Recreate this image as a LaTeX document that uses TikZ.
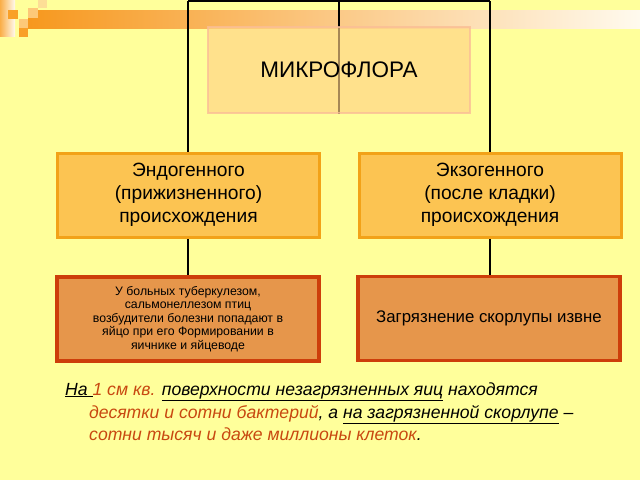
\documentclass[tikz,border=0pt]{standalone}
\usepackage{fontspec}
\setmainfont{Liberation Sans}
\definecolor{bgyellow}{RGB}{255,255,155}
\definecolor{barorange}{RGB}{247,152,30}
\definecolor{barwhite}{RGB}{255,250,238}
\definecolor{mffill}{RGB}{255,210,133}
\definecolor{mfborder}{RGB}{250,190,150}
\definecolor{midfill}{RGB}{252,196,82}
\definecolor{midborder}{RGB}{242,162,24}
\definecolor{lowfill}{RGB}{230,150,75}
\definecolor{lowborder}{RGB}{205,62,10}
\definecolor{redtext}{RGB}{200,72,16}
\definecolor{sqA}{RGB}{249,160,40}
\definecolor{sqB}{RGB}{253,200,120}
\definecolor{sqC}{RGB}{253,222,150}
\pgfdeclarelayer{back}
\pgfdeclarelayer{lines}
\pgfsetlayers{back,lines,main}
\tikzset{
  conn/.style={draw=black, line width=1.8pt},
  topbox/.style={rectangle, fill=mffill, fill opacity=0.65, text opacity=1, draw=mfborder, draw opacity=0.8, line width=2pt,
    minimum width=262pt, minimum height=86pt, inner sep=0pt, font=\fontsize{22.5}{26}\selectfont},
  midbox/.style={rectangle, fill=midfill, draw=midborder, line width=3pt,
    minimum width=262pt, minimum height=84pt, inner sep=0pt, align=center, font=\fontsize{19.2}{23}\selectfont},
  lowbox/.style={rectangle, fill=lowfill, draw=lowborder, line width=3.2pt,
    minimum width=262pt, minimum height=84pt, inner sep=0pt, align=center},
  note/.style={anchor=base west, inner sep=0pt, font=\fontsize{17.6}{21}\selectfont\itshape}
}
\begin{document}
\begin{tikzpicture}[x=1pt,y=-1pt]
\useasboundingbox (0,0) rectangle (640,480);
\begin{pgfonlayer}{back}
  \fill[bgyellow] (0,0) rectangle (640,480);
  \shade[left color=barorange, right color=barwhite] (28,10) rectangle (640,28);
  \shade[left color=sqA!85!white, right color=barwhite] (0,0) rectangle (15,36);
  \fill[sqA] (8,10) rectangle (18,19);
  \fill[sqB] (28,8) rectangle (38,18);
  \fill[sqC] (38,0) rectangle (47,8);
  \fill[sqB] (19,19) rectangle (28,28);
  \fill[sqA] (19,28) rectangle (28,37);
\end{pgfonlayer}

\node[topbox] (mf) at (339,70) {МИКРОФЛОРА};
\node[midbox] (endo) at (188.5,195) {Эндогенного\\(прижизненного)\\происхождения};
\node[midbox] (exo) at (490,195) {Экзогенного\\(после кладки)\\происхождения};
\node[lowbox, font=\fontsize{12.3}{13.4}\selectfont] (bl) at (188,319) {У больных туберкулезом,\\сальмонеллезом птиц\\возбудители болезни попадают в\\яйцо при его Формировании в\\яичнике и яйцеводе};
\node[lowbox, font=\fontsize{16.8}{19}\selectfont] (br) at (489,318.5) {Загрязнение скорлупы извне};

\coordinate (tl) at (188,0.9);
\coordinate (tm) at (339,0.9);
\coordinate (tr) at (490,0.9);
\begin{pgfonlayer}{lines}
  \draw[conn] (tl) -- (tr);
  \draw[conn] (tm) -- (mf.south);
  \draw[conn] (tl) -- (tl |- endo.north);
  \draw[conn] (endo.south -| tl) -- (bl.north);
  \draw[conn] (tr) -- (exo.north);
  \draw[conn] (exo.south) -- (exo.south |- br.north);
\end{pgfonlayer}

\node[note] (t1) at (65,395) {\underline{На\ }\textcolor{redtext}{1 см кв.} \underline{поверхности незагрязненных яиц} находятся};
\node[note] (t2) at (89,418) {\textcolor{redtext}{десятки и сотни бактерий}, а \underline{на загрязненной скорлупе} –};
\node[note] (t3) at (89,440) {\textcolor{redtext}{сотни тысяч и даже миллионы клеток}.};
\end{tikzpicture}
\end{document}
